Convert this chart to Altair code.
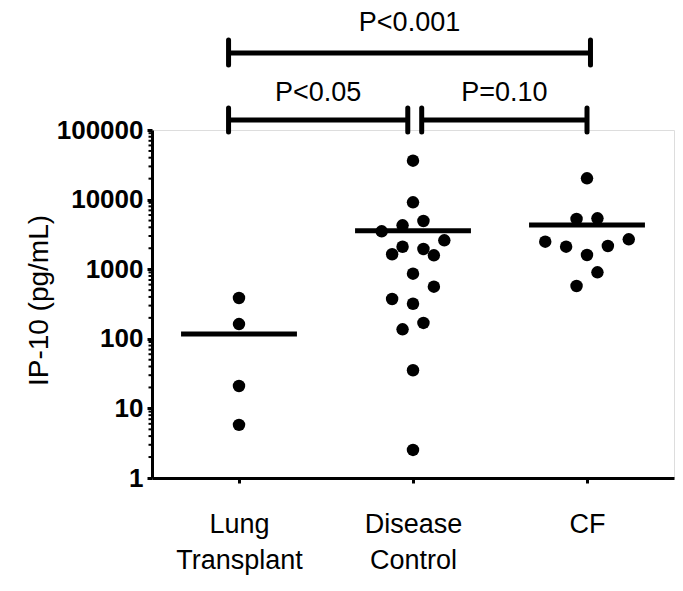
import altair as alt
import pandas as pd

groups = ["Lung Transplant", "Disease Control", "CF"]

lt_values = [386, 163, 21, 5.8]
lt_offsets = [0, 0, 0, 0]

dc_values = [36200, 9140, 4930, 4270, 3500, 2600, 2100, 1950, 1640, 1585,
             862, 561, 373, 319, 169, 137, 35.3, 2.53]
dc_offsets = [0, 0, 1, -1, -3, 3, -1, 1, -2, 2, 0, 2, -2, 0, 1, -1, 0, 0]

cf_values = [20200, 5260, 5390, 2485, 2105, 1600, 2155, 2690, 903, 574]
cf_offsets = [0, -1, 1, -4, -2, 0, 2, 4, 1, -1]

means = [117, 3575, 4315]

brackets_top = [{"label": "P<0.001", "x1": -0.06, "x2": 2.02}]
brackets_low = [{"label": "P<0.05", "x1": -0.06, "x2": 0.97},
                {"label": "P=0.10", "x1": 1.05, "x2": 2.00}]

STEP = 0.06
FONT = "Liberation Sans"

rows = []
for gi, (vals, offs) in enumerate([(lt_values, lt_offsets), (dc_values, dc_offsets), (cf_values, cf_offsets)]):
    for v, o in zip(vals, offs):
        rows.append({"group": groups[gi], "idx": gi, "off": o, "value": v})
pts = pd.DataFrame(rows)
mean_df = pd.DataFrame({"group": groups, "idx": [0, 1, 2], "mean": means})

minor = []
for k in range(5):
    for m in range(2, 10):
        minor.append({"v": m * 10 ** k})
minor_df = pd.DataFrame(minor)

xscale = alt.Scale(domain=[-0.5, 2.5], nice=False, zero=False)
yscale = alt.Scale(type="log", domain=[1, 100000], nice=False)

label_expr = ("datum.value == 0 ? ['Lung', 'Transplant'] : "
              "datum.value == 1 ? ['Disease', 'Control'] : 'CF'")

xaxis = alt.Axis(values=[0, 1, 2], labelExpr=label_expr, grid=False,
                 tickSize=5, tickWidth=3, tickColor="black",
                 domainWidth=3, domainColor="black", labelFont=FONT,
                 labelFontSize=27, labelColor="black", labelPadding=28,
                 labelLineHeight=36, title=None, labelBaseline="top")
yaxis = alt.Axis(values=[1, 10, 100, 1000, 10000, 100000], format="d", grid=False,
                 tickSize=5, tickWidth=3, tickColor="black",
                 domainWidth=3, domainColor="black", labelFont=FONT,
                 labelFontSize=26, labelFontWeight="bold", labelColor="black",
                 labelPadding=4, title="IP-10 (pg/mL)", titleFont=FONT,
                 titleFontSize=28, titleFontWeight="normal", titleColor="black",
                 titleAngle=-90, titleX=-113, titleY=170, titleBaseline="middle",
                 titleAlign="center")

points = alt.Chart(pts).transform_calculate(
    xpos=f"datum.idx + datum.off * {STEP}"
).mark_circle(size=155, color="black", opacity=1).encode(
    x=alt.X("xpos:Q", scale=xscale, axis=xaxis),
    y=alt.Y("value:Q", scale=yscale, axis=yaxis),
)

mean_lines = alt.Chart(mean_df).transform_calculate(
    xa="datum.idx - 0.333", xb="datum.idx + 0.333"
).mark_rule(color="black", strokeWidth=5).encode(
    x=alt.X("xa:Q", scale=xscale), x2="xb:Q",
    y=alt.Y("mean:Q", scale=yscale),
)

minor_ticks = alt.Chart(minor_df).mark_rule(color="black", strokeWidth=2).encode(
    y=alt.Y("v:Q", scale=yscale), x=alt.value(-3.5), x2=alt.value(0),
)


def bracket_layers(items, y_line, y_t0, y_t1, y_text):
    df = pd.DataFrame(items)
    base = alt.Chart(df)
    h = base.mark_rule(color="black", strokeWidth=5, clip=False).encode(
        x=alt.X("x1:Q", scale=xscale), x2="x2:Q", y=alt.value(y_line))
    t1 = base.mark_rule(color="black", strokeWidth=5, strokeCap="round", clip=False).encode(
        x=alt.X("x1:Q", scale=xscale), y=alt.value(y_t0), y2=alt.value(y_t1))
    t2 = base.mark_rule(color="black", strokeWidth=5, strokeCap="round", clip=False).encode(
        x=alt.X("x2:Q", scale=xscale), y=alt.value(y_t0), y2=alt.value(y_t1))
    txt = base.transform_calculate(xm="(datum.x1 + datum.x2) / 2").mark_text(
        font=FONT, fontSize=27, color="black", baseline="middle", align="center", clip=False
    ).encode(x=alt.X("xm:Q", scale=xscale), y=alt.value(y_text), text="label:N")
    return [h, t1, t2, txt]


layers = [minor_ticks, mean_lines, points]
layers += bracket_layers(brackets_top, -77, -90, -65, -107)
layers += bracket_layers(brackets_low, -10, -22, 2, -37)

chart = alt.layer(*layers).properties(
    width=522, height=348,
    autosize=alt.AutoSizeParams(type="none"),
    padding={"left": 144, "top": 122, "right": 1, "bottom": 100},
).configure_view(stroke=None).configure(background="white")

chart.save("out.html", embed_options={"renderer": "svg", "actions": False})
